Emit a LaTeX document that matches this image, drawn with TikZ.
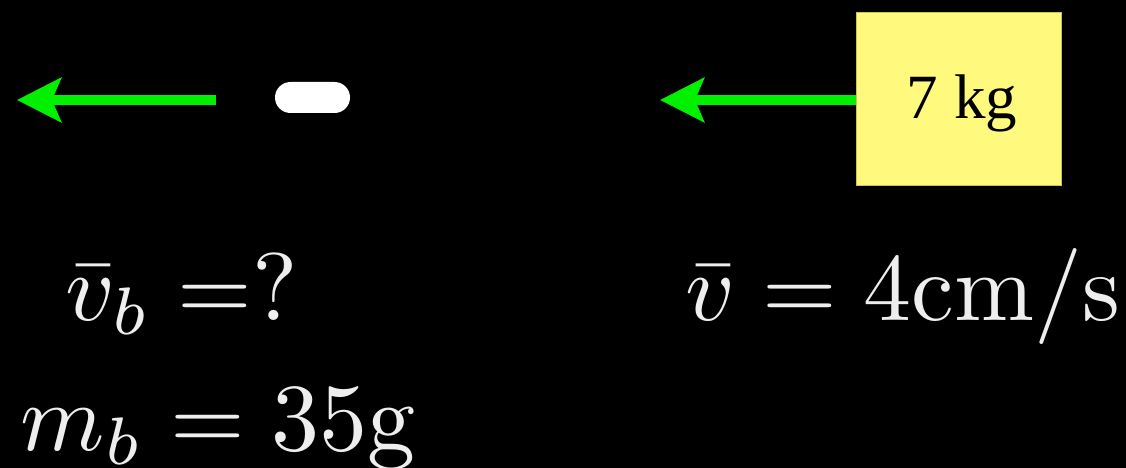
\documentclass[tikz,border=0pt]{standalone}
\usepackage{fontspec}
\newfontfamily\timesfont{Liberation Serif}
\usetikzlibrary{arrows.meta}
\definecolor{arrowgreen}{RGB}{0,240,0}
\definecolor{boxfill}{RGB}{255,250,125}
\definecolor{boxedge}{RGB}{205,195,85}
\definecolor{txt}{RGB}{238,238,238}
\begin{document}
\begin{tikzpicture}[x=1pt,y=-1pt,
  vel/.style={draw=arrowgreen, line width=10pt, -{Stealth[length=44pt,width=44pt,inset=9pt]}},
  eq/.style={text=txt, inner sep=0pt, anchor=base west, font=\fontsize{10}{12}\selectfont, scale=9.6}]
\fill[black] (0,0) rectangle (1126,468);
\useasboundingbox (0,0) rectangle (1126,468);
% bullet and block
\node[fill=white, rounded corners=15.5pt, minimum width=75pt, minimum height=31pt, inner sep=0pt] (bullet) at (312.5,97.5) {};
\node[draw=boxedge, fill=boxfill, line width=1pt, minimum width=205pt, minimum height=173pt, inner sep=0pt, anchor=north west] (box) at (856,12) {};
\node[font=\fontsize{10}{12}\selectfont\timesfont, scale=6.3, anchor=base, inner sep=0pt] (mass) at (962,118) {7 kg};
% velocity arrows
\coordinate (tailA) at (216,100);
\coordinate (tipA) at (17,100);
\coordinate (tipB) at (660,100);
\draw[vel] (tailA) -- (tipA);
\draw[vel] (box.west |- tipB) -- (tipB);
% labels
\node[eq] (vb) at (64,320) {$\bar{v}_b =$?};
\node[eq] (mb) at (19,450) {$m_b = 35\mathrm{g}$};
\node[eq] (v) at (684,320) {$\bar{v} = 4\mathrm{cm/s}$};
\end{tikzpicture}
\end{document}
